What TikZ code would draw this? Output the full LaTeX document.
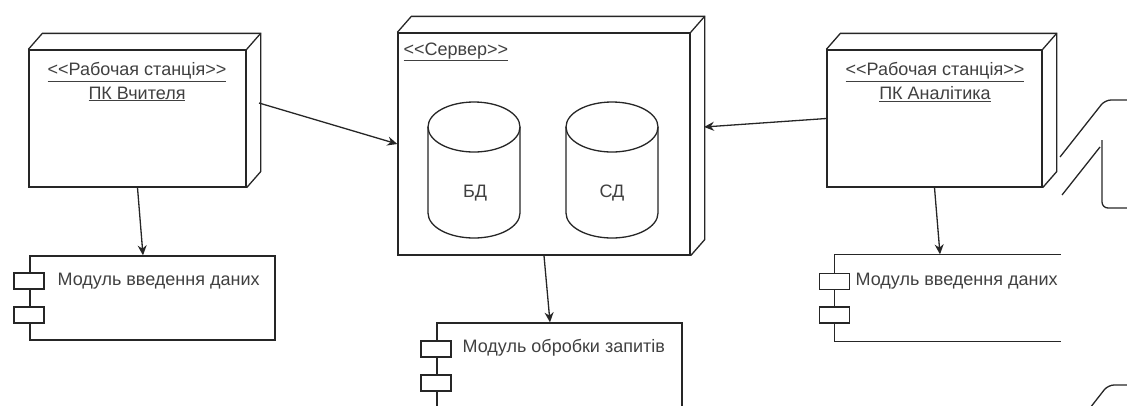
\documentclass[tikz,border=0pt]{standalone}
\usepackage{fontspec}
\setmainfont{Liberation Sans}
\usetikzlibrary{arrows.meta,calc}
\newcommand{\extrude}[1]{%
  \draw (#1.north west) -- ++(14,-16) -- ($(#1.north east)+(14,-16)$) -- ($(#1.south east)+(14,-16)$) -- (#1.south east);
  \draw (#1.north east) -- ++(14,-16);}
\newcommand{\cyl}[3]{% center x, top y, bottom y
  \draw[fill=white] (#1-46,#2+25) -- (#1-46,#3-25) arc[start angle=180,end angle=360,x radius=46,y radius=-25] -- (#1+46,#2+25);
  \draw (#1,#2+25) ellipse[x radius=46,y radius=25];}
\begin{document}
\begin{tikzpicture}[x=1pt,y=-1pt,line width=1.3pt,draw=black!85,
  txt/.style={font=\fontsize{18}{22}\selectfont, text=black!75, inner sep=0pt},
  nodebox/.style={draw, fill=white, inner sep=0pt},
  port/.style={draw, fill=white, minimum width=30pt, minimum height=16pt, inner sep=0pt},
  arr/.style={-{Stealth[length=10pt,width=9pt]}}]
\useasboundingbox (0,0) rectangle (1127,405);
\clip (0,0) rectangle (1127,405);

% left workstation
\node[nodebox, minimum width=217pt, minimum height=137pt] (n1) at (137.5,118.5) {};
\extrude{n1}
\node[txt] (n1a) at (137,72) {\underline{<{}<Рабочая станція>{}>}};
\node[txt] (n1b) at (137,94) {\underline{ПК Вчителя}};

% server
\node[nodebox, minimum width=292pt, minimum height=222pt] (srv) at (544,144) {};
\extrude{srv}
\node[txt, anchor=west] (srvt) at (403,52) {\underline{<{}<Сервер>{}>}};
\cyl{474}{102}{238}
\node[txt] (bd) at (475,193) {БД};
\cyl{612}{102}{238}
\node[txt] (sd) at (612,193) {СД};

% right workstation
\node[nodebox, minimum width=215pt, minimum height=137pt] (n3) at (934.5,118.5) {};
\extrude{n3}
\node[txt] (n3a) at (935,72) {\underline{<{}<Рабочая станція>{}>}};
\node[txt] (n3b) at (935,94) {\underline{ПК Аналітика}};

% left component
\node[nodebox, minimum width=245pt, minimum height=84pt] (c1) at (152.5,298) {};
\node[port] (c1p1) at (29,281) {};
\node[port] (c1p2) at (29,315) {};
\node[txt, anchor=west] (c1t) at (57,281) {Модуль введення даних};

% middle component
\node[nodebox, minimum width=245pt, minimum height=110pt] (c2) at (559.5,378) {};
\node[port] (c2p1) at (436,349) {};
\node[port] (c2p2) at (436,383) {};
\node[txt, anchor=west] (c2t) at (462,348) {Модуль обробки запитів};

% right component (cut off on the right)
\node[inner sep=0pt, minimum width=225pt, minimum height=86pt] (c3) at (947.5,298) {};
\draw (c3.north east) -- (c3.north west) -- (c3.south west) -- (c3.south east);
\node[port] (c3p1) at (834.5,281.5) {};
\node[port] (c3p2) at (834.5,315) {};
\node[txt, anchor=west] (c3t) at (855,281) {Модуль введення даних};

% connectors
\coordinate (n1r) at (259,103);
\coordinate (srvr) at (704,127);
\draw[arr] (n1r) -- (srv.west);
\draw[arr] (n3.west) -- (srvr);
\draw[arr] (n1.south) -- (c1.north -| 143,0);
\draw[arr] (srv.south) -- (c2.north -| 550,0);
\draw[arr] (n3.south) -- (c3.north -| 940,0);

% partial shapes at the right edge
\draw[rounded corners=6pt] (1060,157) -- (1105,100) -- (1127,100);
\draw (1062,195) -- (1100,147);
\draw[rounded corners=6pt] (1102,140) -- (1102,208) -- (1127,208);
\draw[rounded corners=6pt] (1090,408) -- (1108,385) -- (1127,385);
\end{tikzpicture}
\end{document}
